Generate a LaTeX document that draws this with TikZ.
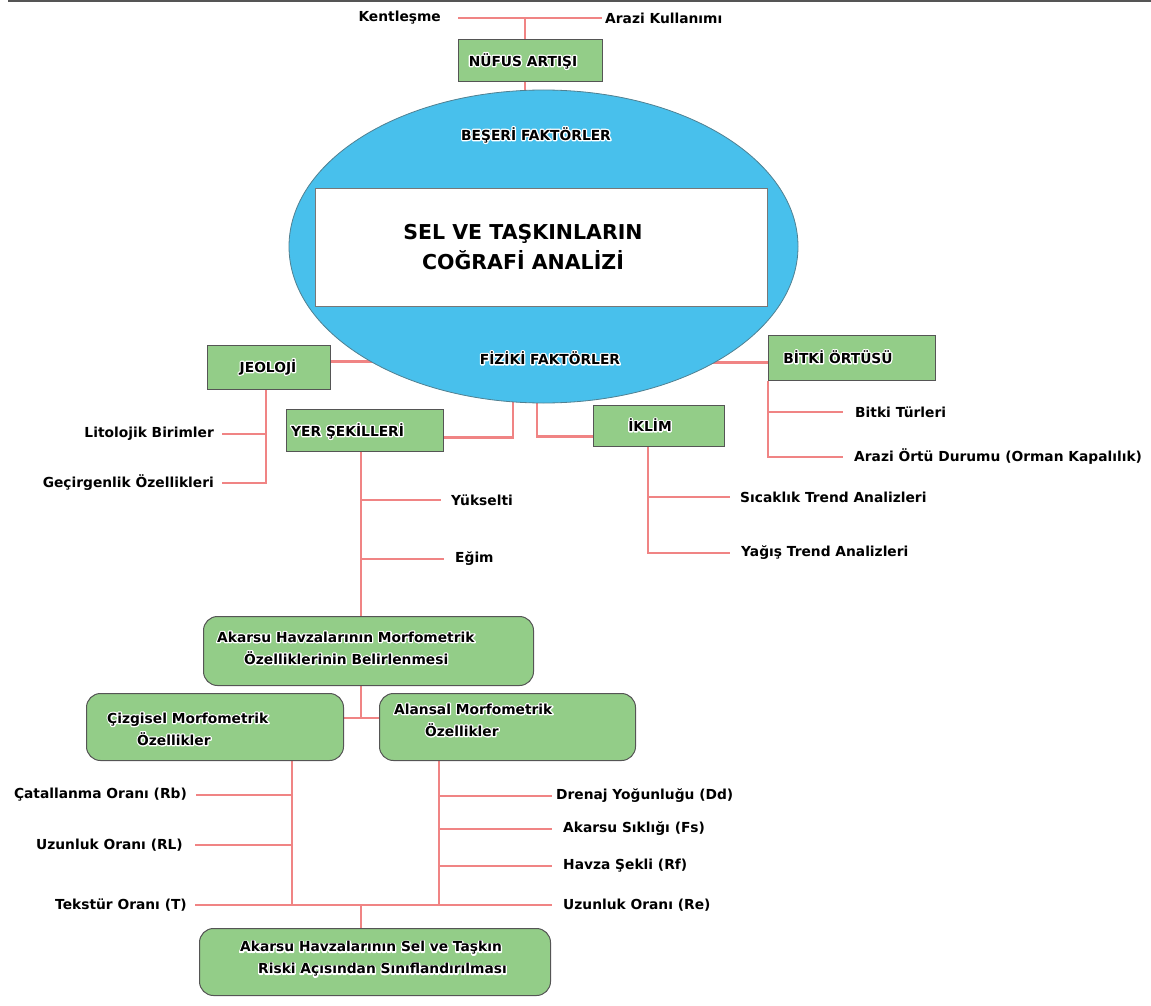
\documentclass[tikz,border=0pt]{standalone}
\usepackage{fontspec}
\setmainfont{DejaVu Sans}
\usetikzlibrary{shapes.geometric}
\pgfdeclarelayer{bg}
\pgfsetlayers{bg,main}
\definecolor{gfill}{RGB}{147,205,136}
\definecolor{eblue}{RGB}{72,192,236}
\definecolor{lnk}{RGB}{240,132,132}
\definecolor{bord}{RGB}{85,85,85}
\newcommand\halotxt[1]{\rlap{\special{pdf:code q 1 Tr 1 1 1 RG 2.6 w 1 J 1 j}#1\special{pdf:code Q}}#1}
\begin{document}
\begin{tikzpicture}[x=1pt,y=-1pt,
  conn/.style={draw=lnk, line width=2.2pt},
  gbox/.style={draw=bord, fill=gfill, line width=1pt, inner sep=0pt, anchor=north west},
  rbox/.style={gbox, rounded corners=14pt},
  txt/.style={inner sep=0pt, font=\bfseries\fontsize{13.8}{22}\selectfont},
  lblw/.style={txt, anchor=west},
  lble/.style={txt, anchor=east},
  btxt/.style={txt, anchor=west, align=left},
]
\useasboundingbox (0,0) rectangle (1151,1006);
\draw[bord, line width=1.5pt] (8,1) -- (1151,1);

% ---------- top ----------
\node[lble] (kent) at (441,18) {Kentleşme};
\node[lblw] (arazi) at (605,18) {Arazi Kullanımı};
\node[gbox, minimum width=144pt, minimum height=42pt] (nufus) at (458,39) {};
\node[txt] (nufusT) at (523,61) {\halotxt{NÜFUS ARTIŞI}};

% ---------- ellipse ----------
\node[ellipse, fill=eblue, draw=bord!60!eblue, line width=0.8pt, inner sep=0pt,
      minimum width=509pt, minimum height=313pt] (ell) at (543.5,246.5) {};
\node[draw=bord!80, fill=white, line width=1pt, inner sep=0pt, anchor=north west,
      minimum width=452pt, minimum height=118pt] (core) at (315,188) {};
\node[txt, font=\bfseries\fontsize{20.5}{30}\selectfont, align=center] (title) at (523,247)
  {SEL VE TAŞKINLARIN\\COĞRAFİ ANALİZİ};
\node[txt] (beseri) at (536,135) {\halotxt{BEŞERİ FAKTÖRLER}};
\node[txt] (fiziki) at (550,358) {\halotxt{FİZİKİ FAKTÖRLER}};

% ---------- physical factor boxes ----------
\node[gbox, minimum width=123pt, minimum height=44pt] (jeo) at (207,345) {};
\node[txt] (jeoT) at (268,367) {\halotxt{JEOLOJİ}};
\node[gbox, minimum width=157pt, minimum height=42pt] (yer) at (286,409) {};
\node[txt, anchor=west] (yerT) at (291,431) {\halotxt{YER ŞEKİLLERİ}};
\node[gbox, minimum width=131pt, minimum height=41pt] (iklim) at (593,405) {};
\node[txt] (iklimT) at (650,425) {\halotxt{İKLİM}};
\node[gbox, minimum width=167pt, minimum height=45pt] (bitki) at (768,335) {};
\node[txt] (bitkiT) at (838,357) {\halotxt{BİTKİ ÖRTÜSÜ}};

% ---------- labels ----------
\node[lble] (lit) at (214,434) {Litolojik Birimler};
\node[lble] (gec) at (214,483) {Geçirgenlik Özellikleri};
\node[lblw] (yuk) at (451,500) {Yükselti};
\node[lblw] (egim) at (455,559) {Eğim};
\node[lblw] (btur) at (855,412) {Bitki Türleri};
\node[lblw] (aort) at (854,457) {Arazi Örtü Durumu (Orman Kapalılık)};
\node[lblw] (sic) at (740,497) {Sıcaklık Trend Analizleri};
\node[lblw] (yag) at (741,553) {Yağış Trend Analizleri};

% ---------- morphometric boxes ----------
\node[rbox, minimum width=330pt, minimum height=69pt] (morf) at (203,616) {};
\node[btxt] (morfT) at (217,648) {\halotxt{Akarsu Havzalarının Morfometrik}\\\hspace*{27pt}\halotxt{Özelliklerinin Belirlenmesi}};
\node[rbox, minimum width=257pt, minimum height=67pt] (cizgi) at (86,693) {};
\node[btxt] (cizgiT) at (107,729) {\halotxt{Çizgisel Morfometrik}\\\hspace*{30pt}\halotxt{Özellikler}};
\node[rbox, minimum width=256pt, minimum height=67pt] (alan) at (379,693) {};
\node[btxt] (alanT) at (394,720) {\halotxt{Alansal Morfometrik}\\\hspace*{31pt}\halotxt{Özellikler}};
\node[rbox, minimum width=351pt, minimum height=67pt] (bot) at (199,928) {};
\node[btxt] (botT) at (240,959) {\halotxt{Akarsu Havzalarının Sel ve Taşkın}\\\hspace*{18pt}\halotxt{Riski Açısından Sınıflandırılması}};

\node[lble] (cat) at (187,795) {Çatallanma Oranı (Rb)};
\node[lble] (rl) at (183,845) {Uzunluk Oranı (RL)};
\node[lble] (tek) at (187,905) {Tekstür Oranı (T)};
\node[lblw] (dd) at (556,796) {Drenaj Yoğunluğu (Dd)};
\node[lblw] (fs) at (563,829) {Akarsu Sıklığı (Fs)};
\node[lblw] (rf) at (563,866) {Havza Şekli (Rf)};
\node[lblw] (re) at (563,905) {Uzunluk Oranı (Re)};

% ---------- junction coordinates ----------
\coordinate (jtop) at (525,18);
\coordinate (jj) at (266,389);
\coordinate (jy) at (361,451);
\coordinate (ji) at (648,446);
\coordinate (jm) at (361,718);
\coordinate (jc) at (292,760);
\coordinate (ja) at (439,760);
\coordinate (jb) at (361,905);

% ---------- connectors ----------
\begin{pgfonlayer}{bg}
\draw[conn] ([xshift=17pt]kent.east) -- ([xshift=-3pt]arazi.west);
\draw[conn] (jtop) -- (jtop |- nufus.north);
\draw[conn] (jtop |- nufus.south) -- (jtop |- ell.center);

\draw[conn] ([yshift=6pt]jeo.east) -- ([yshift=6pt]jeo.east -| ell.center);
\draw[conn] ([yshift=-4.5pt]bitki.west) -- ([yshift=-4.5pt]bitki.west -| ell.center);
\draw[conn] ([yshift=-7pt]yer.east) -| ([xshift=-30.5pt]ell.center);
\draw[conn] ([xshift=-6.5pt]ell.center) |- ([yshift=-10.5pt]iklim.west);

\draw[conn] (jj) |- ([xshift=8pt]gec.east);
\draw[conn] (jj |- lit.east) -- ([xshift=8pt]lit.east);

\draw[conn] (bitki.south west) |- ([xshift=-11pt]aort.west);
\draw[conn] (bitki.south west |- btur.west) -- ([xshift=-12pt]btur.west);

\draw[conn] (ji) |- ([xshift=-11pt]yag.west);
\draw[conn] (ji |- sic.west) -- ([xshift=-10pt]sic.west);

\draw[conn] (jy) -- (jy |- morf.north);
\draw[conn] (jy |- yuk.west) -- ([xshift=-10pt]yuk.west);
\draw[conn] (jy |- egim.west) -- ([xshift=-11pt]egim.west);

\draw[conn] (jm |- morf.south) -- (jm);
\draw[conn] (jm -| cizgi.east) -- (jm -| alan.west);

\draw[conn] (jc) -- (jc |- jb);
\draw[conn] (jc |- cat.east) -- ([xshift=9pt]cat.east);
\draw[conn] (jc |- rl.east) -- ([xshift=12pt]rl.east);
\draw[conn] (ja) -- (ja |- jb);
\draw[conn] (ja |- dd.west) -- ([xshift=-4pt]dd.west);
\draw[conn] (ja |- fs.west) -- ([xshift=-11pt]fs.west);
\draw[conn] (ja |- rf.west) -- ([xshift=-11pt]rf.west);
\draw[conn] ([xshift=8pt]tek.east |- jb) -- ([xshift=-11pt]re.west |- jb);
\draw[conn] (jb) -- (jb |- bot.north);
\end{pgfonlayer}
\end{tikzpicture}
\end{document}
